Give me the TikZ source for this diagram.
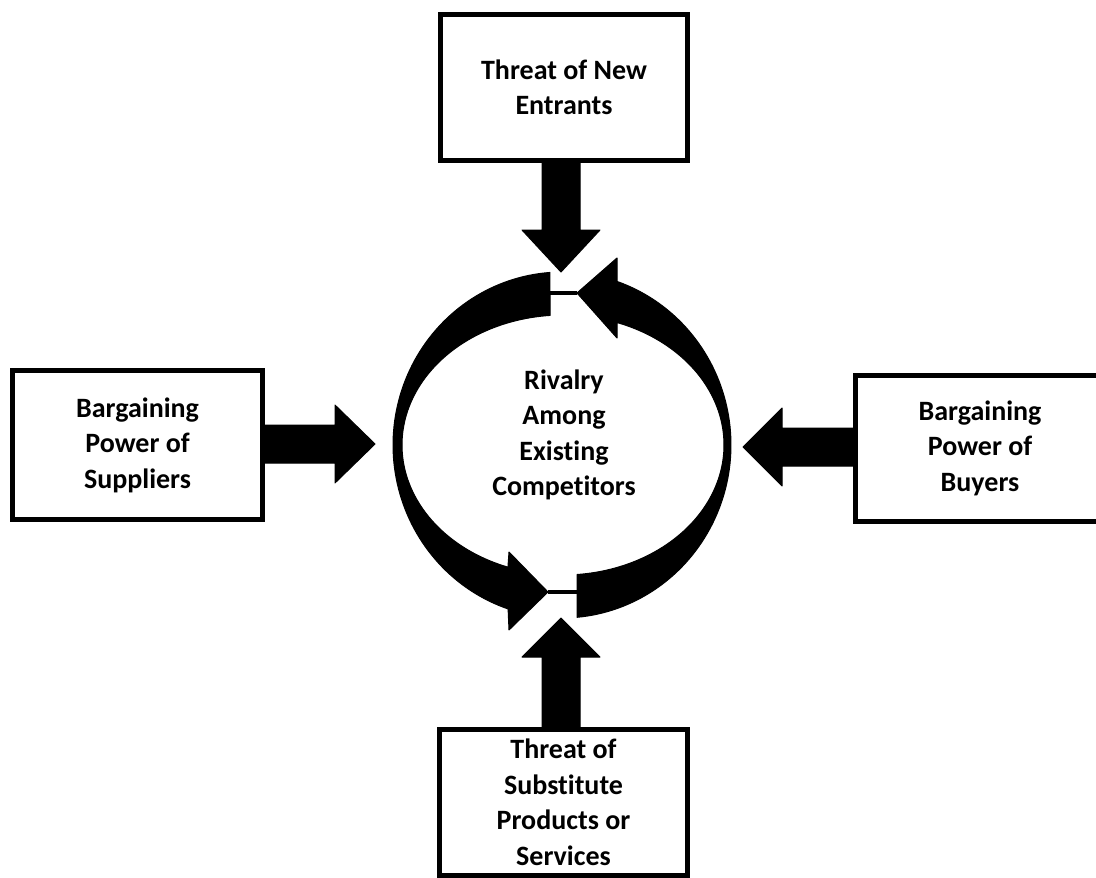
\documentclass[tikz,border=0pt]{standalone}
\usepackage{fontspec}
\setmainfont{Carlito}[Ligatures=NoCommon]
\usetikzlibrary{calc}
\begin{document}
\begin{tikzpicture}[x=1pt,y=-1pt,
  forcebox/.style={draw=black, line width=5pt, fill=white, rectangle, inner sep=0pt,
    align=center, font=\bfseries\fontsize{28}{35.5}\selectfont},
  centretext/.style={inner sep=0pt, align=center, font=\bfseries\fontsize{28}{35.5}\selectfont},
  blockarrow/.style={fill=black, draw=black, line width=1pt, line join=round},
  joinline/.style={draw=black, line width=3.5pt},
]
\useasboundingbox (0,0) rectangle (1096,878);
\clip (0,0) rectangle (1096,878);

% the five forces
\node[forcebox, minimum width=247pt, minimum height=146pt] (N) at (564,87.5) {Threat of New\\Entrants};
\node[forcebox, minimum width=250pt, minimum height=149pt] (W) at (137.5,445) {Bargaining\\Power of\\Suppliers};
\node[forcebox, minimum width=249.5pt, minimum height=146pt] (E) at (980,448) {Bargaining\\Power of\\Buyers};
\node[forcebox, minimum width=248pt, minimum height=146pt] (S) at (563.5,802.5) {Threat of\\Substitute\\Products or\\Services};
\node[centretext] (R) at (564,435) {Rivalry\\Among\\Existing\\Competitors};

% arrow tips pointing at the rivalry ring
\coordinate (tN) at (561,272);
\coordinate (tW) at (375,444);
\coordinate (tE) at (743,447);
\coordinate (tS) at (561,618);

% block arrows from each force towards the centre
\path[blockarrow] ($(N.south -| tN)+(-19,0)$) -- ($(tN)+(-19,-42)$) -- ($(tN)+(-39,-42)$) -- (tN)
  -- ($(tN)+(39,-42)$) -- ($(tN)+(19,-42)$) -- ($(N.south -| tN)+(19,0)$) -- cycle;
\path[blockarrow] ($(W.east |- tW)+(0,-19)$) -- ($(tW)+(-40,-19)$) -- ($(tW)+(-40,-39)$) -- (tW)
  -- ($(tW)+(-40,39)$) -- ($(tW)+(-40,19)$) -- ($(W.east |- tW)+(0,19)$) -- cycle;
\path[blockarrow] ($(E.west |- tE)+(0,-19)$) -- ($(tE)+(39,-19)$) -- ($(tE)+(39,-39)$) -- (tE)
  -- ($(tE)+(39,39)$) -- ($(tE)+(39,19)$) -- ($(E.west |- tE)+(0,19)$) -- cycle;
\path[blockarrow] ($(S.north -| tS)+(-19,0)$) -- ($(tS)+(-19,39)$) -- ($(tS)+(-39,39)$) -- (tS)
  -- ($(tS)+(39,39)$) -- ($(tS)+(19,39)$) -- ($(S.north -| tS)+(19,0)$) -- cycle;

% left half of the rivalry ring: from the top, down the left side, head at the bottom
\path[blockarrow]
  plot[domain=0:157.3, samples=90] ({562+169*cos(265.9-\x)},{445+173*sin(265.9-\x)})
  -- (509,630) -- (548,592) coordinate (tipL) -- (509,552)
  -- plot[domain=0:155.4, samples=90] ({563+161*cos(110+\x)},{445+130*sin(110+\x)})
  -- cycle;
% right half of the rivalry ring: from the bottom, up the right side, head at the top
\path[blockarrow]
  plot[domain=0:155.9, samples=90] ({562+169*cos(84.9-\x)},{445+173*sin(84.9-\x)})
  -- (617,258) -- (577,293) coordinate (tipR) -- (617,338)
  -- plot[domain=0:155.4, samples=90] ({563+161*cos(-70.4+\x)},{445+130*sin(-70.4+\x)})
  -- cycle;

% thin joins closing the ring
\coordinate (tailL) at (550,293);
\coordinate (tailR) at (577,592);
\draw[joinline] (tailL) -- (tipR);
\draw[joinline] (tipL) -- (tailR);
\end{tikzpicture}
\end{document}
